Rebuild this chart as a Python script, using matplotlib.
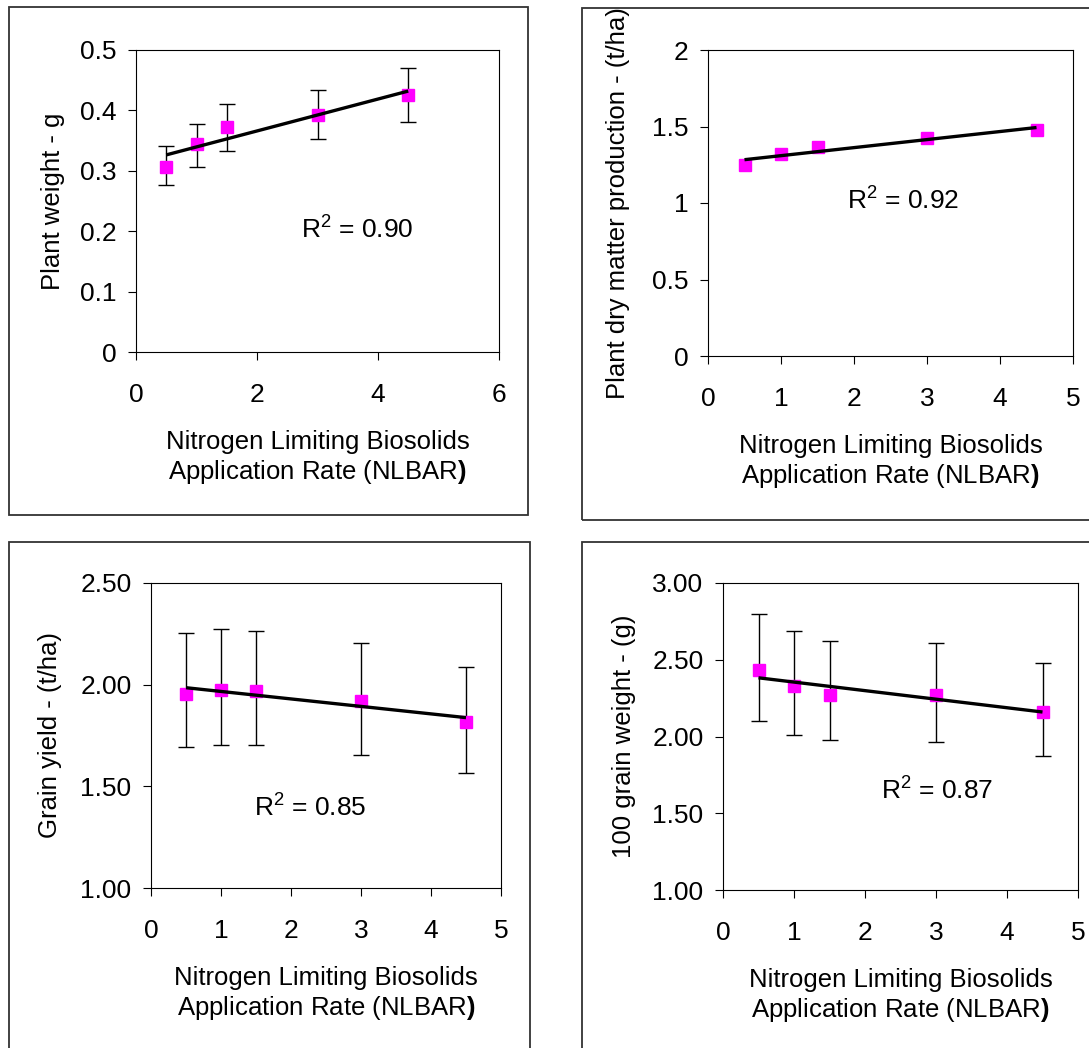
import matplotlib
matplotlib.use("Agg")
import matplotlib.pyplot as plt
from matplotlib.patches import Rectangle
import numpy as np

plt.rcParams['font.family'] = ['Liberation Sans', 'DejaVu Sans']
plt.rcParams['mathtext.fontset'] = 'custom'
plt.rcParams['mathtext.rm'] = 'Liberation Sans'
plt.rcParams['mathtext.it'] = 'Liberation Sans:italic'
plt.rcParams['mathtext.bf'] = 'Liberation Sans:bold'

W, H = 1089, 1048

# NLBAR application rates, same for every panel
nlbar = [0.5, 1, 1.5, 3, 4.5]

plant_weight = [0.307, 0.344, 0.373, 0.393, 0.426]
plant_weight_lo = [0.276, 0.306, 0.332, 0.353, 0.381]
plant_weight_hi = [0.341, 0.378, 0.411, 0.434, 0.470]

dry_matter = [1.246, 1.323, 1.363, 1.427, 1.477]

grain_yield = [1.953, 1.974, 1.969, 1.920, 1.815]
grain_yield_lo = [1.695, 1.703, 1.703, 1.654, 1.567]
grain_yield_hi = [2.253, 2.273, 2.265, 2.204, 2.086]

grain_weight = [2.436, 2.328, 2.273, 2.269, 2.160]
grain_weight_lo = [2.104, 2.013, 1.974, 1.963, 1.872]
grain_weight_hi = [2.800, 2.690, 2.620, 2.610, 2.482]

r2_labels = ["0.90", "0.92", "0.85", "0.87"]

xlabel = "Nitrogen Limiting Biosolids\nApplication Rate (NLBAR$\\mathbf{)}$"


def px_axes(fig, left, top, right, bottom):
    return fig.add_axes([left / W, 1 - bottom / H, (right - left) / W, (bottom - top) / H])


def frame(fig, x0, y0, x1, y1):
    fig.patches.append(Rectangle((x0 / W, 1 - y1 / H), (x1 - x0) / W, (y1 - y0) / H,
                                 transform=fig.transFigure, fill=False,
                                 lw=1.3, ec='#333333', zorder=0))


def panel(ax, box, y, lo, hi, xticks, yticks, yticklabels, ylabel, r2, r2_xy, ylabel_px):
    left, top, right, bottom = box
    y = np.array(y)
    if lo is not None:
        err = [y - np.array(lo), np.array(hi) - y]
        ax.errorbar(nlbar, y, yerr=err, fmt='none', ecolor='black',
                    elinewidth=1.0, capsize=6, capthick=1.0, zorder=2)
    ax.plot(nlbar, y, 's', color='#ff00ff', mec='#ff00ff', ms=8.5, zorder=3)

    # linear trendline over the data range
    coef = np.polyfit(nlbar, y, 1)
    xs = np.array([min(nlbar), max(nlbar)])
    ax.plot(xs, np.polyval(coef, xs), color='black', lw=2.4, zorder=4,
            solid_capstyle='butt')

    ax.set_xlim(xticks[0], xticks[-1])
    ax.set_ylim(yticks[0], yticks[-1])
    ax.set_xticks(xticks)
    ax.set_xticklabels([str(t) for t in xticks])
    ax.set_yticks(yticks)
    ax.set_yticklabels(yticklabels)
    ax.tick_params(direction='out', length=6, width=0.8, labelsize=19,
                   top=False, right=False)
    ax.tick_params(axis='x', pad=16)
    ax.tick_params(axis='y', pad=8)
    for s in ax.spines.values():
        s.set_linewidth(0.8)
        s.set_color('black')

    ax.set_xlabel(xlabel, fontsize=18.5, linespacing=1.2)
    ax.xaxis.set_label_coords(0.5, -78 / (bottom - top))
    ax.xaxis.label.set_va('top')

    ax.set_ylabel(ylabel, fontsize=18.5)
    ax.yaxis.set_label_coords((ylabel_px - left) / (right - left), 0.5)
    ax.yaxis.label.set_va('center')

    ax.text(r2_xy[0], r2_xy[1], "R$^2$ = " + r2, fontsize=19,
            ha='center', va='baseline')


fig = plt.figure(figsize=(W / 100, H / 100), dpi=100)

frame(fig, 9, 7.5, 527.5, 515)
frame(fig, 581.5, 7.5, 1100, 519.5)
frame(fig, 9, 541.5, 529.5, 1060)
frame(fig, 581.5, 541.5, 1100, 1060)

box1 = (136, 50, 499, 352)
ax1 = px_axes(fig, *box1)
panel(ax1, box1, plant_weight, plant_weight_lo, plant_weight_hi,
      [0, 2, 4, 6], [0, 0.1, 0.2, 0.3, 0.4, 0.5],
      ["0", "0.1", "0.2", "0.3", "0.4", "0.5"],
      "Plant weight - g", r2_labels[0], (3.65, 0.188), 53)

box2 = (708, 50, 1073, 356)
ax2 = px_axes(fig, *box2)
panel(ax2, box2, dry_matter, None, None,
      [0, 1, 2, 3, 4, 5], [0, 0.5, 1, 1.5, 2],
      ["0", "0.5", "1", "1.5", "2"],
      "Plant dry matter production - (t/ha)", r2_labels[1], (2.67, 0.955), 618)

box3 = (151, 583, 501, 888)
ax3 = px_axes(fig, *box3)
panel(ax3, box3, grain_yield, grain_yield_lo, grain_yield_hi,
      [0, 1, 2, 3, 4, 5], [1.0, 1.5, 2.0, 2.5],
      ["1.00", "1.50", "2.00", "2.50"],
      "Grain yield - (t/ha)", r2_labels[2], (2.28, 1.35), 50)

box4 = (723, 583, 1078, 890)
ax4 = px_axes(fig, *box4)
panel(ax4, box4, grain_weight, grain_weight_lo, grain_weight_hi,
      [0, 1, 2, 3, 4, 5], [1.0, 1.5, 2.0, 2.5, 3.0],
      ["1.00", "1.50", "2.00", "2.50", "3.00"],
      "100 grain weight - (g)", r2_labels[3], (3.02, 1.586), 624)

fig.savefig("out.png", dpi=100)
